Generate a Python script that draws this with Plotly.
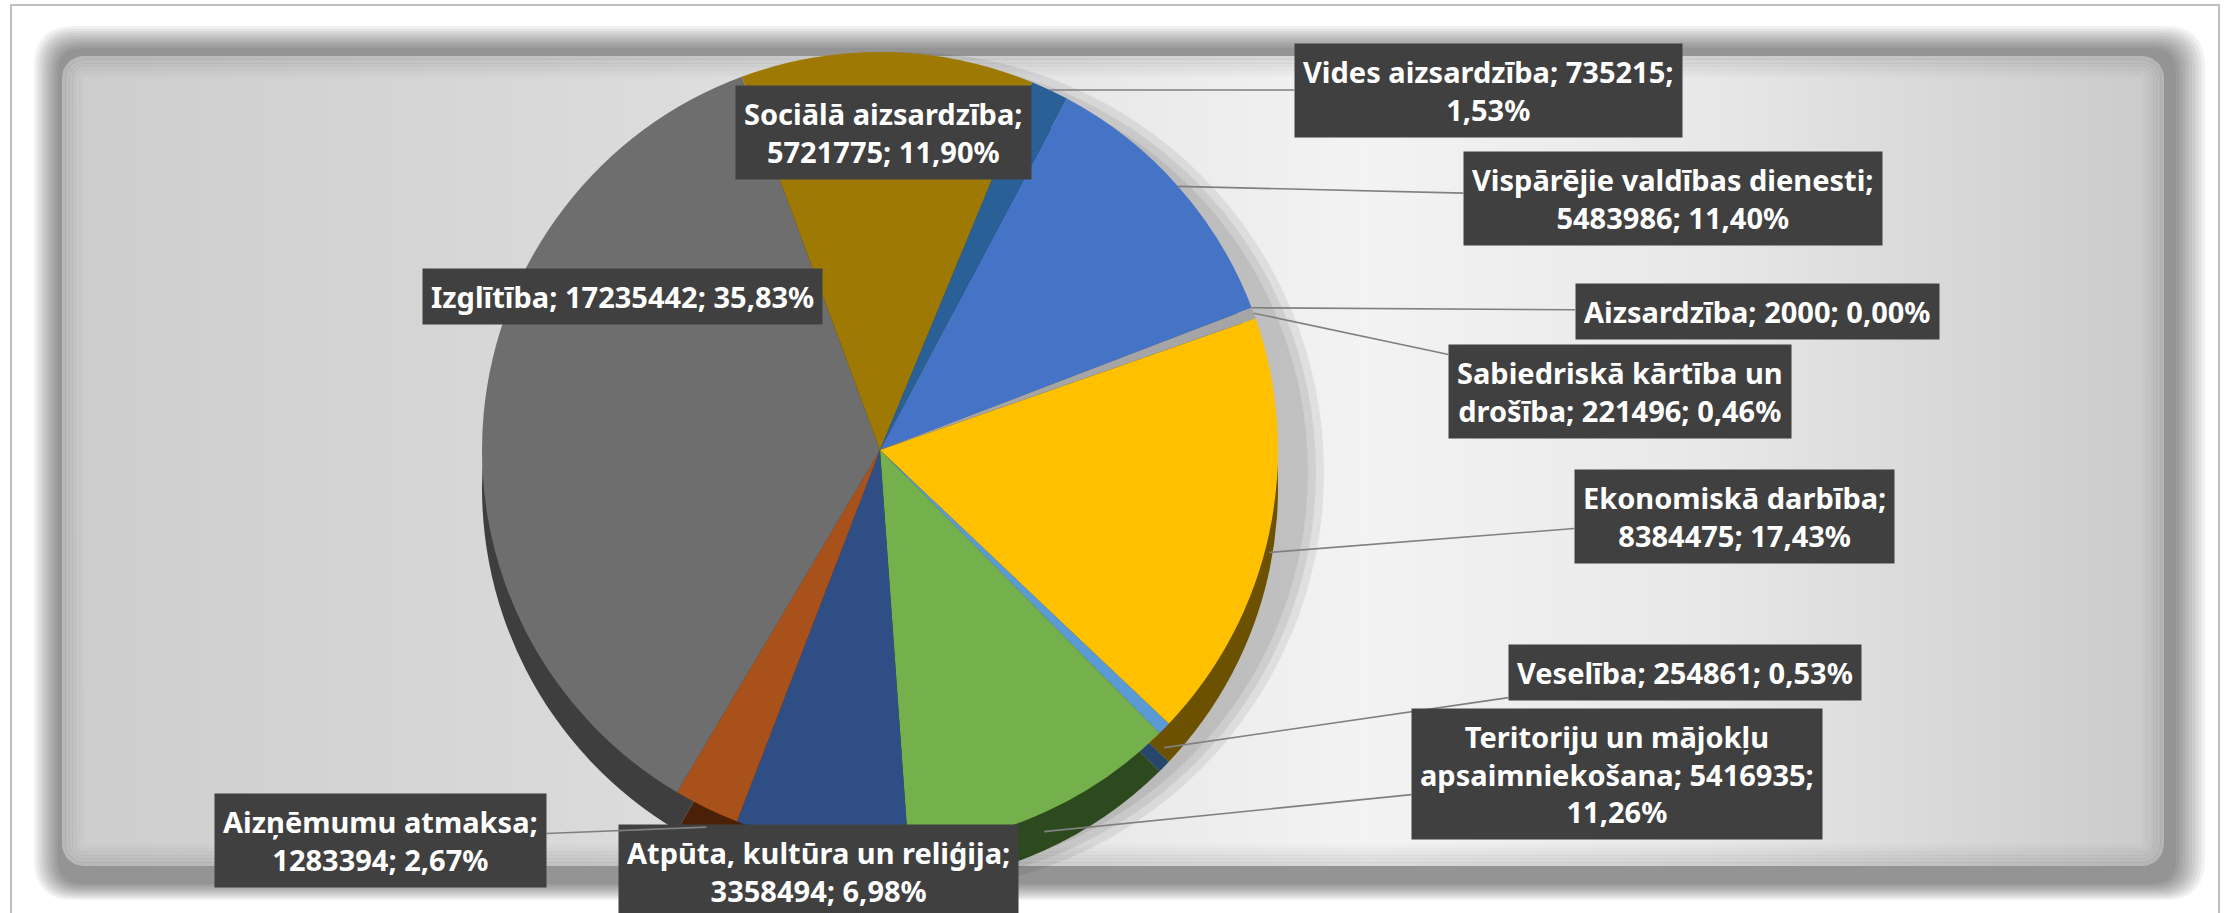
import math
import plotly.graph_objects as go

# ---------------- data ----------------
categories = [
    "Vispārējie valdības dienesti",
    "Aizsardzība",
    "Sabiedriskā kārtība un drošība",
    "Ekonomiskā darbība",
    "Veselība",
    "Teritoriju un mājokļu apsaimniekošana",
    "Atpūta, kultūra un reliģija",
    "Aizņēmumu atmaksa",
    "Izglītība",
    "Sociālā aizsardzība",
    "Vides aizsardzība",
]
values = [5483986, 2000, 221496, 8384475, 254861, 5416935, 3358494, 1283394, 17235442, 5721775, 735215]

# ---------------- styles ----------------
top_colors = ["#4574C6", "#ED7D31", "#A5A5A5", "#FFC000", "#5B9BD5", "#74B04B",
              "#2F4E86", "#A8511A", "#6E6E6E", "#9E7A05", "#2A6098"]
side_colors = ["#203A6A", "#6B3410", "#555555", "#6B5100", "#26466C", "#2C4A1D",
               "#0F1B38", "#4A2006", "#3E3E3E", "#4A3900", "#14304F"]

W, H = 2231, 913
CX, CY, R, DEPTH = 880, 450, 398, 38
ROTATION = 28

# label layout (pixel centres of the label boxes), wrap widths, leader flags
wrap_limits = [29, 40, 22, 20, 40, 25, 28, 18, 40, 20, 26]
label_centers = [(1673, 198), (1757, 311), (1620, 391), (1734, 516), (1685, 672), (1617, 774),
                 (818, 871), (380, 840), (622, 296), (883, 132), (1488, 90)]
show_leader = [True, True, True, True, True, True, False, True, False, False, True]

FONT = "Noto Sans"
FSIZE = 29


def wrap(text, limit):
    words = text.split(" ")
    lines, cur = [], ""
    for w in words:
        cand = w if not cur else cur + " " + w
        if len(cand) <= limit:
            cur = cand
        else:
            lines.append(cur)
            cur = w
    lines.append(cur)
    return "<br>".join(lines)


def rrect_path(x0, y0, x1, y1, rad):
    return (f"M {x0+rad},{y0} L {x1-rad},{y0} Q {x1},{y0} {x1},{y0+rad} "
            f"L {x1},{y1-rad} Q {x1},{y1} {x1-rad},{y1} L {x0+rad},{y1} "
            f"Q {x0},{y1} {x0},{y1-rad} L {x0},{y0+rad} Q {x0},{y0} {x0+rad},{y0} Z")


def rrect_points(x0, y0, x1, y1, rad, n=10):
    xs, ys = [], []
    corners = [(x1 - rad, y0 + rad, -90), (x1 - rad, y1 - rad, 0),
               (x0 + rad, y1 - rad, 90), (x0 + rad, y0 + rad, 180)]
    for cx_, cy_, a0 in corners:
        for k in range(n + 1):
            a = math.radians(a0 + 90 * k / n)
            xs.append(cx_ + rad * math.cos(a))
            ys.append(cy_ + rad * math.sin(a))
    xs.append(xs[0]); ys.append(ys[0])
    return xs, ys


def domain(cx, cy, r):
    return dict(x=[(cx - r) / W, (cx + r) / W], y=[1 - (cy + r) / H, 1 - (cy - r) / H])


fig = go.Figure()

# ---------------- background gradient panel ----------------
PANEL = (62, 56, 2164, 866)
bx, by = rrect_points(*PANEL, 22)
fig.add_trace(go.Scatter(
    x=bx, y=by, mode="lines", fill="toself", line=dict(width=0),
    fillgradient=dict(type="horizontal", colorscale=[
        [0.0, "#cdcdcd"], [0.2, "#d7d7d7"], [0.45, "#e5e5e5"], [0.62, "#f3f3f3"],
        [0.78, "#e8e8e8"], [1.0, "#cacaca"]]),
    hoverinfo="skip", showlegend=False))
# soft inner edge of the panel
for k in range(6):
    d = 2 + 3.5 * k
    ex, ey = rrect_points(PANEL[0] + d, PANEL[1] + d, PANEL[2] - d, PANEL[3] - d, max(22 - d, 4))
    fig.add_trace(go.Scatter(
        x=ex, y=ey, mode="lines", line=dict(width=4, color=f"rgba(0,0,0,{0.10 * (1 - k / 6):.3f})"),
        hoverinfo="skip", showlegend=False))

# ---------------- pie shadow ----------------
for extra in (22, 14, 6):
    fig.add_trace(go.Pie(values=[1], marker=dict(colors=["rgba(0,0,0,0.07)"], line=dict(width=0)),
                         domain=domain(CX + 24, CY + 22, R + extra), textinfo="none",
                         hoverinfo="skip", showlegend=False, sort=False))

# ---------------- pie side (depth) ----------------
fig.add_trace(go.Pie(
    labels=categories, values=values, sort=False, direction="clockwise", rotation=ROTATION,
    marker=dict(colors=side_colors, line=dict(width=0)),
    domain=domain(CX, CY + DEPTH, R), textinfo="none", hoverinfo="skip", showlegend=False))

# ---------------- pie top ----------------
fig.add_trace(go.Pie(
    labels=categories, values=values, sort=False, direction="clockwise", rotation=ROTATION,
    marker=dict(colors=top_colors, line=dict(width=0)),
    domain=domain(CX, CY, R), textinfo="none", showlegend=False,
    hovertemplate="%{label}: %{value}<extra></extra>"))

# ---------------- frame shadow shapes ----------------
shapes = []
outer = (34, 26, 2205, 900)
core = (58, 48, 2176, 884)
N = 10
for k in range(N):
    t = k / (N - 1)
    x0 = outer[0] + (core[0] - outer[0]) * t
    y0 = outer[1] + (core[1] - outer[1]) * t
    x1 = outer[2] + (core[2] - outer[2]) * t
    y1 = outer[3] + (core[3] - outer[3]) * t
    shapes.append(dict(type="path", xref="x", yref="y", layer="below",
                       path=rrect_path(x0, y0, x1, y1, 40 - 15 * t),
                       fillcolor="rgba(0,0,0,0.05)", line=dict(width=0)))
shapes.append(dict(type="rect", xref="x", yref="y", x0=11, y0=5, x1=2219, y1=960,
                   line=dict(color="#bfbfbf", width=2), fillcolor="rgba(0,0,0,0)", layer="above"))

# ---------------- labels ----------------
total = sum(values)
annotations = []
cum = 0
for i, v in enumerate(values):
    mid = ROTATION + 360 * (cum + v / 2) / total
    cum += v
    th = math.radians(mid)
    px = CX + R * math.sin(th)
    py = CY - R * math.cos(th)
    if math.cos(th) < 0:
        py += DEPTH * 0.5
    pct = f"{v / total * 100:.2f}".replace(".", ",")
    txt = wrap(f"{categories[i]}; {v}; {pct}%", wrap_limits[i])
    lx, ly = label_centers[i]
    common = dict(text=f"<b>{txt}</b>", font=dict(family=FONT, size=FSIZE, color="white"),
                  bgcolor="#404040", borderpad=8, align="center")
    if show_leader[i]:
        annotations.append(dict(
            x=px, y=py, xref="x", yref="y", ax=lx, ay=ly, axref="x", ayref="y",
            showarrow=True, arrowhead=0, arrowwidth=1.6, arrowcolor="#808080", standoff=0,
            **common))
    else:
        annotations.append(dict(
            x=lx, y=ly, xref="x", yref="y", showarrow=False,
            xanchor="center", yanchor="middle", **common))

fig.update_layout(
    width=W, height=H, margin=dict(l=0, r=0, t=0, b=0),
    paper_bgcolor="white", plot_bgcolor="white",
    xaxis=dict(range=[0, W], visible=False, fixedrange=True, domain=[0, 1]),
    yaxis=dict(range=[H, 0], visible=False, fixedrange=True, domain=[0, 1]),
    shapes=shapes, annotations=annotations, showlegend=False,
    font=dict(family=FONT),
)

fig.write_html("out.html", config={"displayModeBar": False},
               post_script="document.body.style.margin='0';document.body.style.overflow='hidden';")
